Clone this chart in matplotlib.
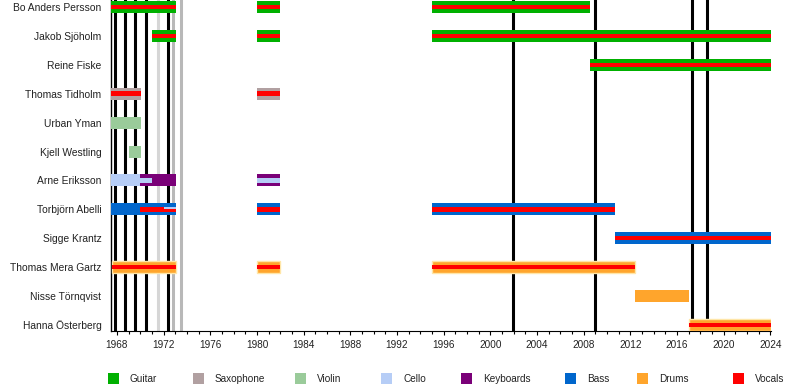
import matplotlib
matplotlib.use("Agg")
import matplotlib.pyplot as plt
from matplotlib.patches import Rectangle

plt.rcParams['font.family'] = ['Liberation Sans', 'DejaVu Sans']

members = ["Bo Anders Persson", "Jakob Sjöholm", "Reine Fiske", "Thomas Tidholm",
           "Urban Yman", "Kjell Westling", "Arne Eriksson", "Torbjörn Abelli",
           "Sigge Krantz", "Thomas Mera Gartz", "Nisse Törnqvist", "Hanna Österberg"]

instruments = ["Guitar", "Saxophone", "Violin", "Cello", "Keyboards", "Bass", "Drums", "Vocals"]
colors = ["#00b000", "#b1a0a1", "#9acb9a", "#b6cdf6", "#7a0078", "#0066cc", "#ffa52c", "#ff0000"]

# membership periods (parallel lists)
bar_member = ["Bo Anders Persson", "Bo Anders Persson", "Bo Anders Persson",
              "Jakob Sjöholm", "Jakob Sjöholm", "Jakob Sjöholm",
              "Reine Fiske",
              "Thomas Tidholm", "Thomas Tidholm",
              "Urban Yman",
              "Kjell Westling",
              "Arne Eriksson", "Arne Eriksson", "Arne Eriksson", "Arne Eriksson",
              "Torbjörn Abelli", "Torbjörn Abelli", "Torbjörn Abelli", "Torbjörn Abelli", "Torbjörn Abelli",
              "Sigge Krantz",
              "Thomas Mera Gartz", "Thomas Mera Gartz", "Thomas Mera Gartz",
              "Nisse Törnqvist",
              "Hanna Österberg"]
bar_start = [1967.45, 1980.0, 1995.0,
             1971.0, 1980.0, 1995.0,
             2008.55,
             1967.45, 1980.0,
             1967.45,
             1969.0,
             1967.45, 1970.0, 1971.0, 1980.0,
             1967.45, 1970.0, 1972.0, 1980.0, 1995.0,
             2010.65,
             1967.6, 1980.0, 1995.0,
             2012.4,
             2017.0]
bar_end = [1973.1, 1982.0, 2008.55,
           1973.1, 1982.0, 2024.05,
           2024.05,
           1970.05, 1982.0,
           1970.05,
           1970.05,
           1970.0, 1971.0, 1973.1, 1982.0,
           1970.0, 1972.0, 1973.1, 1982.0, 2010.65,
           2024.05,
           1973.1, 1982.0, 2012.4,
           2017.0,
           2024.05]
bar_main = ["Guitar", "Guitar", "Guitar",
            "Guitar", "Guitar", "Guitar",
            "Guitar",
            "Saxophone", "Saxophone",
            "Violin",
            "Violin",
            "Cello", "Keyboards", "Keyboards", "Keyboards",
            "Bass", "Bass", "Bass", "Bass", "Bass",
            "Bass",
            "Drums", "Drums", "Drums",
            "Drums",
            "Drums"]
bar_stripes = [["Vocals"], ["Vocals"], ["Vocals"],
               ["Vocals"], ["Vocals"], ["Vocals"],
               ["Vocals"],
               ["Vocals"], ["Vocals"],
               [],
               [],
               [], ["Cello"], [], ["Cello"],
               [], ["Vocals"], ["Cello", "Vocals"], ["Vocals"], ["Vocals"],
               ["Vocals"],
               ["Vocals"], ["Vocals"], ["Vocals"],
               [],
               ["Vocals"]]

# release lines
studio_albums = [1967.85, 1968.72, 1969.52, 1970.49, 1972.37, 2001.96, 2009.0, 2017.3, 2018.6]
other_releases = [1972.8, 1973.52]
light_releases = [1971.52]

year_min, year_max = 1967.45, 2024.05
major_ticks = list(range(1968, 2025, 4))
minor_ticks = list(range(1968, 2025, 1))

cmap = dict(zip(instruments, colors))

fig = plt.figure(figsize=(8, 3.9), dpi=100)
ax = fig.add_axes([110.5 / 800, 1 - 331 / 390, (771 - 110.5) / 800, 331 / 390])

ax.set_xlim(year_min, year_max)
ax.set_ylim(11.21, -0.242)

for x in studio_albums:
    ax.axvline(x, color="black", lw=2.2, zorder=1)
for x in other_releases:
    ax.axvline(x, color="#b8b8b8", lw=2.2, zorder=1)
for x in light_releases:
    ax.axvline(x, color="#d6d6d6", lw=2.2, zorder=1)

ypos = {m: i for i, m in enumerate(members)}
H = 0.415
SH = 0.155
for m, s, e, main, stripes in zip(bar_member, bar_start, bar_end, bar_main, bar_stripes):
    y = ypos[m]
    halo = (main == "Drums" and len(stripes) > 0)
    ax.add_patch(Rectangle((s, y - H / 2), e - s, H, facecolor=cmap[main],
                           edgecolor="#ffe6a8" if halo else "none",
                           lw=1.0 if halo else 0, zorder=3))
    n = len(stripes)
    if n:
        h = SH / n
        for k, st in enumerate(stripes):
            ax.add_patch(Rectangle((s, y - SH / 2 + k * h), e - s, h,
                                   facecolor=cmap[st], edgecolor="none", zorder=4))

ax.set_yticks(range(len(members)))
ax.set_yticklabels(members, fontsize=7.4, color="#222222")
ax.tick_params(axis="y", length=0, pad=6.5)

ax.set_xticks(major_ticks)
ax.set_xticks(minor_ticks, minor=True)
ax.set_xticklabels([str(t) for t in major_ticks], fontsize=7.2, color="#222222")
ax.tick_params(axis="x", which="major", length=3.2, width=0.8, pad=3, direction="out")
ax.tick_params(axis="x", which="minor", length=2.0, width=0.8, direction="out")

for side in ["top", "right"]:
    ax.spines[side].set_visible(False)
ax.spines["left"].set_linewidth(1.0)
ax.spines["bottom"].set_linewidth(0.8)

# legend
sq_x = [108, 193, 295, 381, 461, 565, 637, 733]
for name, c, x in zip(instruments, colors, sq_x):
    fig.add_artist(Rectangle((x / 800, 1 - 384 / 390), 11 / 800, 11 / 390,
                             transform=fig.transFigure, facecolor=c, edgecolor="none"))
    fig.text((x + 22) / 800, 1 - 378.5 / 390, name, fontsize=7.2, va="center",
             ha="left", color="#222222")

fig.savefig("out.png", dpi=100)
